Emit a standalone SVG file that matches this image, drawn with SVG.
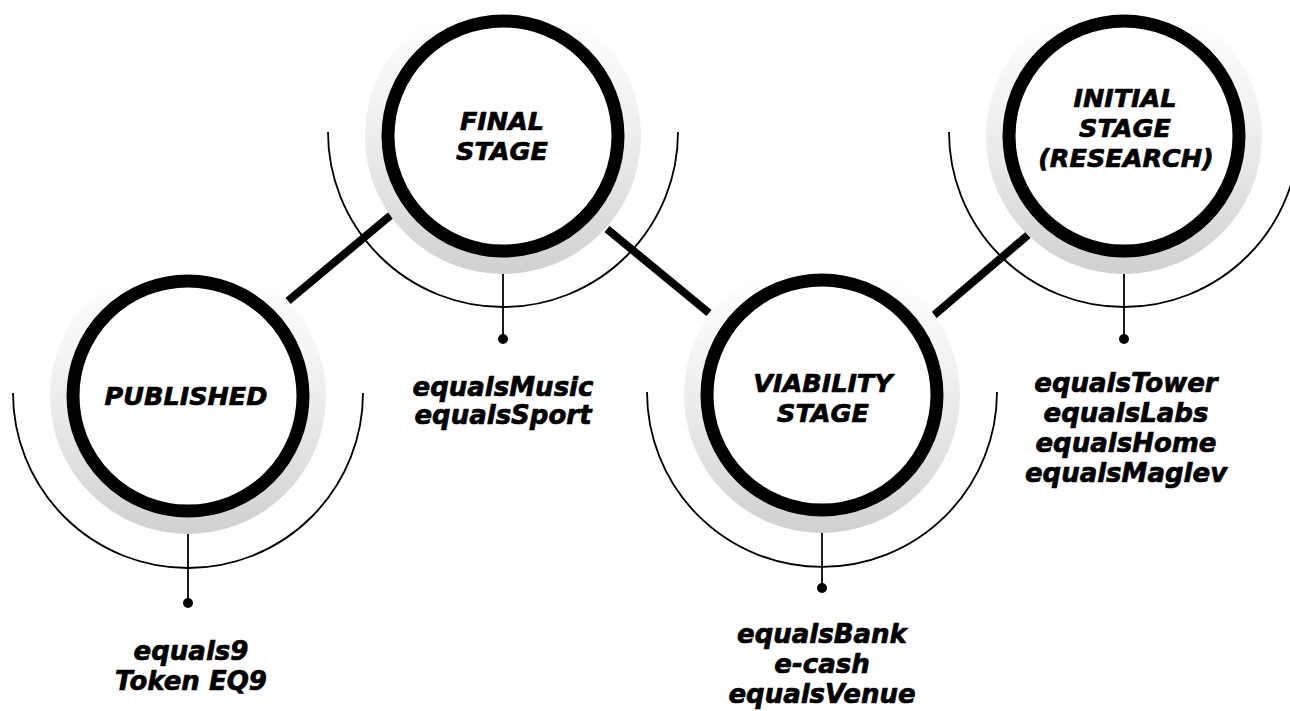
<svg xmlns="http://www.w3.org/2000/svg" width="1290" height="711" viewBox="0 0 1290 711">
  <defs>
    <linearGradient id="halo" x1="0" y1="0" x2="0" y2="1">
      <stop offset="0.08" stop-color="#ffffff"/>
      <stop offset="0.55" stop-color="#ebebec"/>
      <stop offset="1" stop-color="#cfd0d2"/>
    </linearGradient>
    <style>
      .link { stroke: #000; stroke-width: 8; stroke-linecap: butt; fill: none; }
      .halo { fill: url(#halo); }
      .ring { fill: #fff; stroke: #000; stroke-width: 13; }
      .arc { fill: none; stroke: #000; stroke-width: 1.8; }
      .stem { stroke: #000; stroke-width: 1.8; }
      .dot { fill: #000; }
      .title, .label { font-family: "DejaVu Sans", "Liberation Sans", sans-serif; font-weight: bold; font-style: italic; fill: #000; stroke: #000; stroke-width: 0.7; stroke-linejoin: round; text-anchor: middle; }
      .title { font-size: 25.5px; }
      .label { font-size: 26px; }
    </style>
  </defs>
  <rect width="1290" height="711" fill="#fff"/>

  <!-- connectors between stages -->
  <g id="connectors">
    <line class="link" x1="288" y1="301" x2="391" y2="215"/>
    <line class="link" x1="607" y1="229" x2="709" y2="313"/>
    <line class="link" x1="933" y1="316" x2="1028" y2="235"/>
  </g>

  <!-- PUBLISHED -->
  <g id="node-published">
    <path class="arc" d="M13,393 A175,175 0 0 0 363,393"/>
    <line class="stem" x1="188" y1="533" x2="188" y2="603"/>
    <circle class="dot" cx="188" cy="603" r="5"/>
    <circle class="halo" cx="188" cy="396" r="138"/>
    <circle class="ring" cx="188" cy="396" r="115"/>
    <text class="title" x="186" y="405">PUBLISHED</text>
    <text class="label" x="191" y="660">equals9</text>
    <text class="label" x="191" y="690">Token EQ9</text>
  </g>

  <!-- FINAL STAGE -->
  <g id="node-final">
    <path class="arc" d="M328,132 A175,175 0 0 0 678,132"/>
    <line class="stem" x1="503" y1="273" x2="503" y2="339"/>
    <circle class="dot" cx="503" cy="339" r="5"/>
    <circle class="halo" cx="503" cy="136" r="138"/>
    <circle class="ring" cx="503" cy="136" r="115"/>
    <text class="title" x="502" y="130">FINAL</text>
    <text class="title" x="502" y="160">STAGE</text>
    <text class="label" x="503" y="396">equalsMusic</text>
    <text class="label" x="503" y="424">equalsSport</text>
  </g>

  <!-- VIABILITY STAGE -->
  <g id="node-viability">
    <path class="arc" d="M647,392 A175,175 0 0 0 997,392"/>
    <line class="stem" x1="822" y1="532" x2="822" y2="588"/>
    <circle class="dot" cx="822" cy="588" r="5"/>
    <circle class="halo" cx="822" cy="395" r="138"/>
    <circle class="ring" cx="822" cy="395" r="115"/>
    <text class="title" x="823" y="392">VIABILITY</text>
    <text class="title" x="823" y="422">STAGE</text>
    <text class="label" x="822" y="643">equalsBank</text>
    <text class="label" x="822" y="673">e-cash</text>
    <text class="label" x="822" y="703">equalsVenue</text>
  </g>

  <!-- INITIAL STAGE (RESEARCH) -->
  <g id="node-initial">
    <path class="arc" d="M949,132 A175,175 0 0 0 1299,132"/>
    <line class="stem" x1="1124" y1="273" x2="1124" y2="339"/>
    <circle class="dot" cx="1124" cy="339" r="5"/>
    <circle class="halo" cx="1124" cy="136" r="138"/>
    <circle class="ring" cx="1124" cy="136" r="115"/>
    <text class="title" x="1125" y="107">INITIAL</text>
    <text class="title" x="1125" y="137">STAGE</text>
    <text class="title" x="1126" y="167">(RESEARCH)</text>
    <text class="label" x="1126" y="392">equalsTower</text>
    <text class="label" x="1126" y="422">equalsLabs</text>
    <text class="label" x="1126" y="452">equalsHome</text>
    <text class="label" x="1126" y="482">equalsMaglev</text>
  </g>
</svg>
